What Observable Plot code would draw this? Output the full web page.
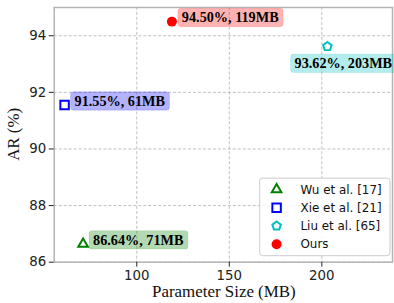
<!DOCTYPE html>
<html><head><meta charset="utf-8">
<script src="https://cdn.jsdelivr.net/npm/d3@7"></script>
<script src="https://cdn.jsdelivr.net/npm/@observablehq/plot@0.6"></script>
<style>
html,body{margin:0;padding:0;background:#fff;overflow:hidden;width:394px;height:303px}
#chart svg{display:block}
</style>
</head><body><div id="chart"></div>
<script>
// ---- data ----
const methods = ["Wu et al. [17]", "Xie et al. [21]", "Liu et al. [65]", "Ours"];
const paramSize = [71, 61, 203, 119];
const accuracy = [86.64, 91.55, 93.62, 94.50];
const labels = ["86.64%, 71MB", "91.55%, 61MB", "93.62%, 203MB", "94.50%, 119MB"];
const xTicks = [100, 150, 200];
const yTicks = [86, 88, 90, 92, 94];

// ---- styles ----
const colors = ["#008000", "#0000ff", "#00bfbf", "#ff0000"];
const pentagon = {
  draw(ctx, size) {
    const R = Math.sqrt(size / 2.3776);
    for (let k = 0; k < 5; k++) {
      const a = -Math.PI / 2 + k * 2 * Math.PI / 5;
      const px = R * Math.cos(a), py = R * Math.sin(a);
      k ? ctx.lineTo(px, py) : ctx.moveTo(px, py);
    }
    ctx.closePath();
  }
};
const symbols = [d3.symbolTriangle, d3.symbolSquare, pentagon, d3.symbolCircle];
const radii = [3.6, 4.8, 3.9, 5];
const filled = [false, false, false, true];

const data = methods.map((m, i) => ({method: m, size: paramSize[i], ar: accuracy[i], label: labels[i], i}));

const dotMarks = data.map(d => Plot.dot([d], {
  x: "size", y: "ar", symbol: symbols[d.i], r: radii[d.i],
  stroke: filled[d.i] ? "none" : colors[d.i],
  fill: filled[d.i] ? colors[d.i] : "none",
  strokeWidth: 2
}));

const labelStyle = {x: "size", y: "ar", text: "label", textAnchor: "start", lineAnchor: "middle",
  fontFamily: "Liberation Serif", fontWeight: "bold", fontSize: 14.3, fill: "black"};
const labelMarks = [
  Plot.text(data.filter(d => d.method !== "Liu et al. [65]"), {...labelStyle, dx: 10, dy: -4}),
  Plot.text(data.filter(d => d.method === "Liu et al. [65]"), {...labelStyle, dx: -33, dy: 17})
];

const plot = Plot.plot({
  width: 396, height: 303,
  marginLeft: 54, marginTop: 7, marginRight: 2, marginBottom: 40,
  style: {fontFamily: "DejaVu Sans", fontSize: "13.4px", background: "white", color: "#222", overflow: "visible"},
  x: {domain: [55.4, 238.2], ticks: xTicks, label: null, tickSize: 5, tickPadding: 3},
  y: {domain: [86, 95], ticks: yTicks, label: null, tickSize: 5, tickPadding: 3},
  marks: [
    Plot.gridX(xTicks, {stroke: "#b0b0b0", strokeOpacity: 1, strokeWidth: 0.8, strokeDasharray: "3,2"}),
    Plot.gridY(yTicks, {stroke: "#b0b0b0", strokeOpacity: 1, strokeWidth: 0.8, strokeDasharray: "3,2"}),
    Plot.frame({stroke: "#b4b4b4", strokeWidth: 1.5}),
    Plot.axisX({ticks: xTicks, tickSize: 5, tickPadding: 3, label: null}),
    Plot.axisY({ticks: yTicks, tickSize: 5, tickPadding: 3, label: null}),
    ...labelMarks,
    ...dotMarks
  ]
});
document.getElementById("chart").appendChild(plot);

const svg = d3.select(plot);
// label boxes
svg.selectAll("text").filter(function() { return labels.includes(this.textContent); }).each(function() {
  const b = this.getBBox();
  const c = colors[labels.indexOf(this.textContent)];
  const rect = document.createElementNS("http://www.w3.org/2000/svg", "rect");
  this.parentNode.insertBefore(rect, this);
  d3.select(rect)
    .attr("x", b.x - 4).attr("y", b.y - 1).attr("width", b.width + 8).attr("height", b.height + 2.5)
    .attr("rx", 3).attr("fill", c).attr("fill-opacity", 0.3)
    .attr("stroke", c).attr("stroke-opacity", 0.12).attr("stroke-width", 1);
  const t = this.getAttribute("transform");
  if (t) rect.setAttribute("transform", t);
});

// axis titles
svg.append("text").attr("x", 225).attr("y", 299).attr("text-anchor", "middle")
  .attr("font-family", "Liberation Serif").attr("font-size", 17).attr("fill", "#111").text("Parameter Size (MB)");
svg.append("text").attr("transform", "translate(19,135) rotate(-90)").attr("text-anchor", "middle")
  .attr("font-family", "Liberation Serif").attr("font-size", 17).attr("fill", "#111").text("AR (%)");

// legend
const lg = svg.append("g").attr("font-family", "DejaVu Sans").attr("font-size", 12).attr("text-anchor", "start");
lg.append("rect").attr("x", 261).attr("y", 179).attr("width", 131).attr("height", 78).attr("rx", 3)
  .attr("fill", "white").attr("fill-opacity", 0.85).attr("stroke", "#cccccc").attr("stroke-width", 1);
methods.forEach((m, i) => {
  const cy = 190.5 + i * 18.3;
  lg.append("path").attr("transform", `translate(278,${cy})`)
    .attr("d", d3.symbol(symbols[i], Math.PI * radii[i] * radii[i])())
    .attr("fill", filled[i] ? colors[i] : "none").attr("stroke", filled[i] ? "none" : colors[i]).attr("stroke-width", 2);
  lg.append("text").attr("x", 302).attr("y", cy).attr("dy", "0.35em").attr("text-anchor", "start").attr("fill", "#111").text(m);
});
</script>
</body></html>
